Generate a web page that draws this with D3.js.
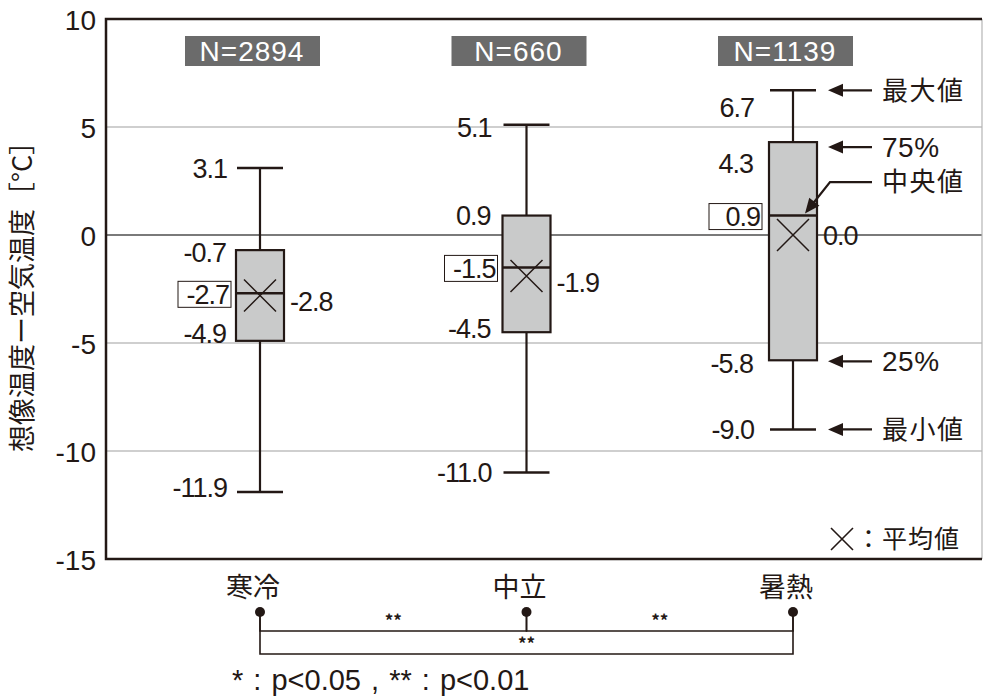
<!DOCTYPE html>
<html>
<head>
<meta charset="utf-8">
<script src="https://cdn.jsdelivr.net/npm/d3@7/dist/d3.min.js"></script>
<style>
  html, body { margin: 0; padding: 0; background: #fff; }
  svg { display: block; }
  text { font-family: "Noto Sans CJK JP", "Noto Sans", sans-serif; fill: #231815; }
  text.num { font-family: "Liberation Sans", Arial, sans-serif; }
</style>
</head>
<body>
<script>
// Thermal sensation groups and their distribution of (imagined - air) temperature
const categories = ["寒冷", "中立", "暑熱"];
const sampleSizes = [2894, 660, 1139];
const maxVals = [3.1, 5.1, 6.7];
const q3Vals = [-0.7, 0.9, 4.3];
const medianVals = [-2.7, -1.5, 0.9];
const q1Vals = [-4.9, -4.5, -5.8];
const minVals = [-11.9, -11.0, -9.0];
const meanVals = [-2.8, -1.9, 0.0];
const yTicks = [10, 5, 0, -5, -10, -15];
// significance brackets: [from, to, mark]
const comparisons = [[0, 1, "**"], [1, 2, "**"], [0, 2, "**"]];
const calloutLabels = { max: "最大値", q3: "75%", median: "中央値", q1: "25%", min: "最小値" };

const W = 984, H = 696;
const plot = { left: 106, right: 982, top: 19, bottom: 559 };
const ink = "#231815";

const svg = d3.select("body").append("svg").attr("width", W).attr("height", H);

const y = d3.scaleLinear().domain([-15, 10]).range([plot.bottom, plot.top]);
const x = d3.scalePoint().domain(categories).range([260, 793]);
const boxW = 48, capW = 46;

// plain hyphen for negatives
const fmt = v => d3.format(".1f")(v).replace("−", "-");
const fmtInt = v => d3.format("d")(v).replace("−", "-");

// horizontal grid
svg.append("g").selectAll("line")
  .data(yTicks.filter(t => t !== 10 && t !== -15))
  .join("line")
  .attr("x1", plot.left).attr("x2", plot.right)
  .attr("y1", d => y(d)).attr("y2", d => y(d))
  .attr("stroke", d => d === 0 ? "#7a7a7a" : "#a0a0a0")
  .attr("stroke-width", d => d === 0 ? 2 : 1.2);

// frame: right edge light, others dark
svg.append("line").attr("x1", plot.right).attr("x2", plot.right)
  .attr("y1", plot.top).attr("y2", plot.bottom).attr("stroke", "#b5b5b5").attr("stroke-width", 1.2);
svg.append("path")
  .attr("d", `M${plot.right},${plot.top}H${plot.left}V${plot.bottom}H${plot.right}`)
  .attr("fill", "none").attr("stroke", ink).attr("stroke-width", 2.5);

// y axis labels
const yAxis = svg.append("g").attr("transform", `translate(${plot.left},0)`)
  .call(d3.axisLeft(y).tickValues(yTicks).tickSize(0).tickPadding(10).tickFormat(fmtInt));
yAxis.select(".domain").remove();
yAxis.selectAll("text").attr("class", "num").attr("font-size", 28)
  .style("font-family", "'Liberation Sans', Arial, sans-serif")
  .attr("fill", ink).attr("dy", "0.36em");

svg.append("text")
  .attr("transform", `translate(22,290) rotate(-90)`)
  .attr("text-anchor", "middle").attr("dy", "0.36em").attr("font-size", 27)
  .text("想像温度ー空気温度［°C］");

// sample size badges
const nG = svg.append("g").selectAll("g").data(categories).join("g")
  .attr("transform", (d, i) => `translate(${x(d) - 8},51)`);
nG.append("rect").attr("x", -67).attr("y", -15).attr("width", 135).attr("height", 30).attr("fill", "#6b6b6b");
nG.append("text").attr("class", "num").attr("text-anchor", "middle").attr("dy", "0.36em").attr("font-size", 28)
  .attr("letter-spacing", 1).style("fill", "#fff")
  .text((d, i) => "N=" + sampleSizes[i]);

// boxes
const groups = categories.map((c, i) => ({
  c, i, max: maxVals[i], q3: q3Vals[i], med: medianVals[i], q1: q1Vals[i], min: minVals[i], mean: meanVals[i]
}));
const bx = svg.append("g").selectAll("g").data(groups).join("g")
  .attr("transform", d => `translate(${x(d.c)},0)`);

bx.append("line").attr("x1", 0).attr("x2", 0)
  .attr("y1", d => y(d.max)).attr("y2", d => y(d.min)).attr("stroke", ink).attr("stroke-width", 2.2);
bx.append("line").attr("x1", -capW / 2).attr("x2", capW / 2)
  .attr("y1", d => y(d.max)).attr("y2", d => y(d.max)).attr("stroke", ink).attr("stroke-width", 2.5);
bx.append("line").attr("x1", -capW / 2).attr("x2", capW / 2)
  .attr("y1", d => y(d.min)).attr("y2", d => y(d.min)).attr("stroke", ink).attr("stroke-width", 2.5);
bx.append("rect").attr("x", -boxW / 2).attr("width", boxW)
  .attr("y", d => y(d.q3)).attr("height", d => y(d.q1) - y(d.q3))
  .attr("fill", "#c9caca").attr("stroke", ink).attr("stroke-width", 2.2);
bx.append("line").attr("x1", -boxW / 2).attr("x2", boxW / 2)
  .attr("y1", d => y(d.med)).attr("y2", d => y(d.med)).attr("stroke", ink).attr("stroke-width", 2.5);
// mean marker
const mk = 16;
bx.append("path")
  .attr("d", d => `M${-mk},${y(d.mean) - mk}L${mk},${y(d.mean) + mk}M${-mk},${y(d.mean) + mk}L${mk},${y(d.mean) - mk}`)
  .attr("stroke", ink).attr("stroke-width", 1.5).attr("fill", "none");

// value labels; the last group places its labels lower to make room for the callouts
const labelShift = [
  { max: 0, q3: 2, q1: -8, min: -5, mean: 6, gap: 10 },
  { max: 2, q3: 0, q1: -4, min: 0, mean: 6, gap: 12 },
  { max: 17, q3: 21, q1: 3, min: 0, mean: 0, gap: 16 }
];
const numText = (sel) => sel.attr("class", "num").attr("font-size", 27).attr("letter-spacing", -1).attr("dy", "0.36em");

["max", "q3", "q1", "min"].forEach(k => {
  bx.append("text").call(numText)
    .attr("text-anchor", "end")
    .attr("x", d => -(k === "max" || k === "min" ? capW : boxW) / 2 - labelShift[d.i].gap)
    .attr("y", d => y(d[k]) + labelShift[d.i][k])
    .text(d => fmt(d[k]));
});
// mean values to the right of the box
bx.append("text").call(numText)
  .attr("x", boxW / 2 + 6)
  .attr("y", d => y(d.mean) + labelShift[d.i].mean)
  .text(d => fmt(d.mean));
// medians in an outlined label
const medG = bx.append("g").attr("transform", d => `translate(${-boxW / 2 - 5 - (d.i === 2 ? 2 : 0)},${y(d.med) + 1})`);
medG.append("rect").attr("x", -53).attr("y", -13).attr("width", 53).attr("height", 26)
  .attr("fill", "#fff").attr("stroke", ink).attr("stroke-width", 1);
medG.append("text").call(numText).attr("text-anchor", "end").attr("x", -2)
  .text(d => fmt(d.med));

// callouts describing the box parts, attached to the last group
const last = groups[2];
const cx = x(last.c);
const arrowTip = cx + 35, arrowEnd = cx + 79, textX = cx + 89;
const head = (x0, y0, ang) => {
  const L = 15, w = 6.5;
  const ca = Math.cos(ang), sa = Math.sin(ang);
  const bx0 = x0 + L * ca, by0 = y0 + L * sa;
  return `M${x0},${y0}L${bx0 - w * sa},${by0 + w * ca}L${bx0 + w * sa},${by0 - w * ca}Z`;
};
const calloutG = svg.append("g");
const calloutText = (sel) => sel.attr("font-size", 26).attr("letter-spacing", 1.5);
[["max", last.max, 0], ["q3", last.q3, 5], ["q1", last.q1, 1], ["min", last.min, 0]].forEach(([k, v, off]) => {
  const yy = y(v) + off;
  calloutG.append("line").attr("x1", arrowTip + 10).attr("x2", arrowEnd)
    .attr("y1", yy).attr("y2", yy).attr("stroke", ink).attr("stroke-width", 2.2);
  calloutG.append("path").attr("d", head(arrowTip, yy, 0)).attr("fill", ink);
  const t = calloutG.append("text").attr("x", textX).attr("y", yy).attr("dy", "0.36em")
    .call(calloutText).text(calloutLabels[k]);
  if (k === "q3" || k === "q1") t.attr("class", "num").attr("font-size", 28).attr("letter-spacing", 0.5);
});
{
  const yy = y(last.q3) + 40;
  const tipX = cx + 12, tipY = y(last.med) - 2;
  const kneeX = cx + 37;
  const ang = Math.atan2(yy - tipY, kneeX - tipX);
  calloutG.append("path")
    .attr("d", `M${arrowEnd},${yy}H${kneeX}L${tipX + 10 * Math.cos(ang)},${tipY + 10 * Math.sin(ang)}`)
    .attr("fill", "none").attr("stroke", ink).attr("stroke-width", 2.2);
  calloutG.append("path").attr("d", head(tipX, tipY, ang)).attr("fill", ink);
  calloutG.append("text").attr("x", textX).attr("y", yy).attr("dy", "0.36em")
    .call(calloutText).text(calloutLabels.median);
}

// mean legend
const lg = svg.append("g").attr("transform", "translate(842,539)");
lg.append("path").attr("d", "M-11,-11L11,11M-11,11L11,-11").attr("stroke", ink).attr("stroke-width", 1.6);
lg.append("text").attr("x", 14).attr("dy", "0.36em").attr("font-size", 25).attr("letter-spacing", 1).text("：平均値");

// category labels
svg.append("g").selectAll("text").data(categories).join("text")
  .attr("x", d => x(d) - 7).attr("y", 587).attr("dy", "0.36em")
  .attr("text-anchor", "middle").attr("font-size", 27).text(d => d);

// significance brackets
const dotY = 612, levelY = [631, 654];
const sig = svg.append("g");
sig.selectAll("circle").data(categories).join("circle")
  .attr("cx", d => x(d)).attr("cy", dotY).attr("r", 5).attr("fill", ink);
comparisons.forEach(([a, b, mark]) => {
  const lvl = b - a === 1 ? 0 : 1;
  const x0 = x(categories[a]), x1 = x(categories[b]), yy = levelY[lvl];
  sig.append("path")
    .attr("d", `M${x0},${dotY}V${yy}H${x1}V${dotY}`)
    .attr("fill", "none").attr("stroke", ink).attr("stroke-width", 1.6);
  sig.append("text").attr("x", (x0 + x1) / 2).attr("y", yy - 4)
    .attr("text-anchor", "middle").attr("font-size", 17).attr("font-weight", "bold").text(mark);
});

svg.append("text").attr("class", "num").attr("x", 232).attr("y", 680).attr("dy", "0.36em")
  .attr("font-size", 29).attr("word-spacing", 2).text("* : p<0.05 , ** : p<0.01");
</script>
</body>
</html>
